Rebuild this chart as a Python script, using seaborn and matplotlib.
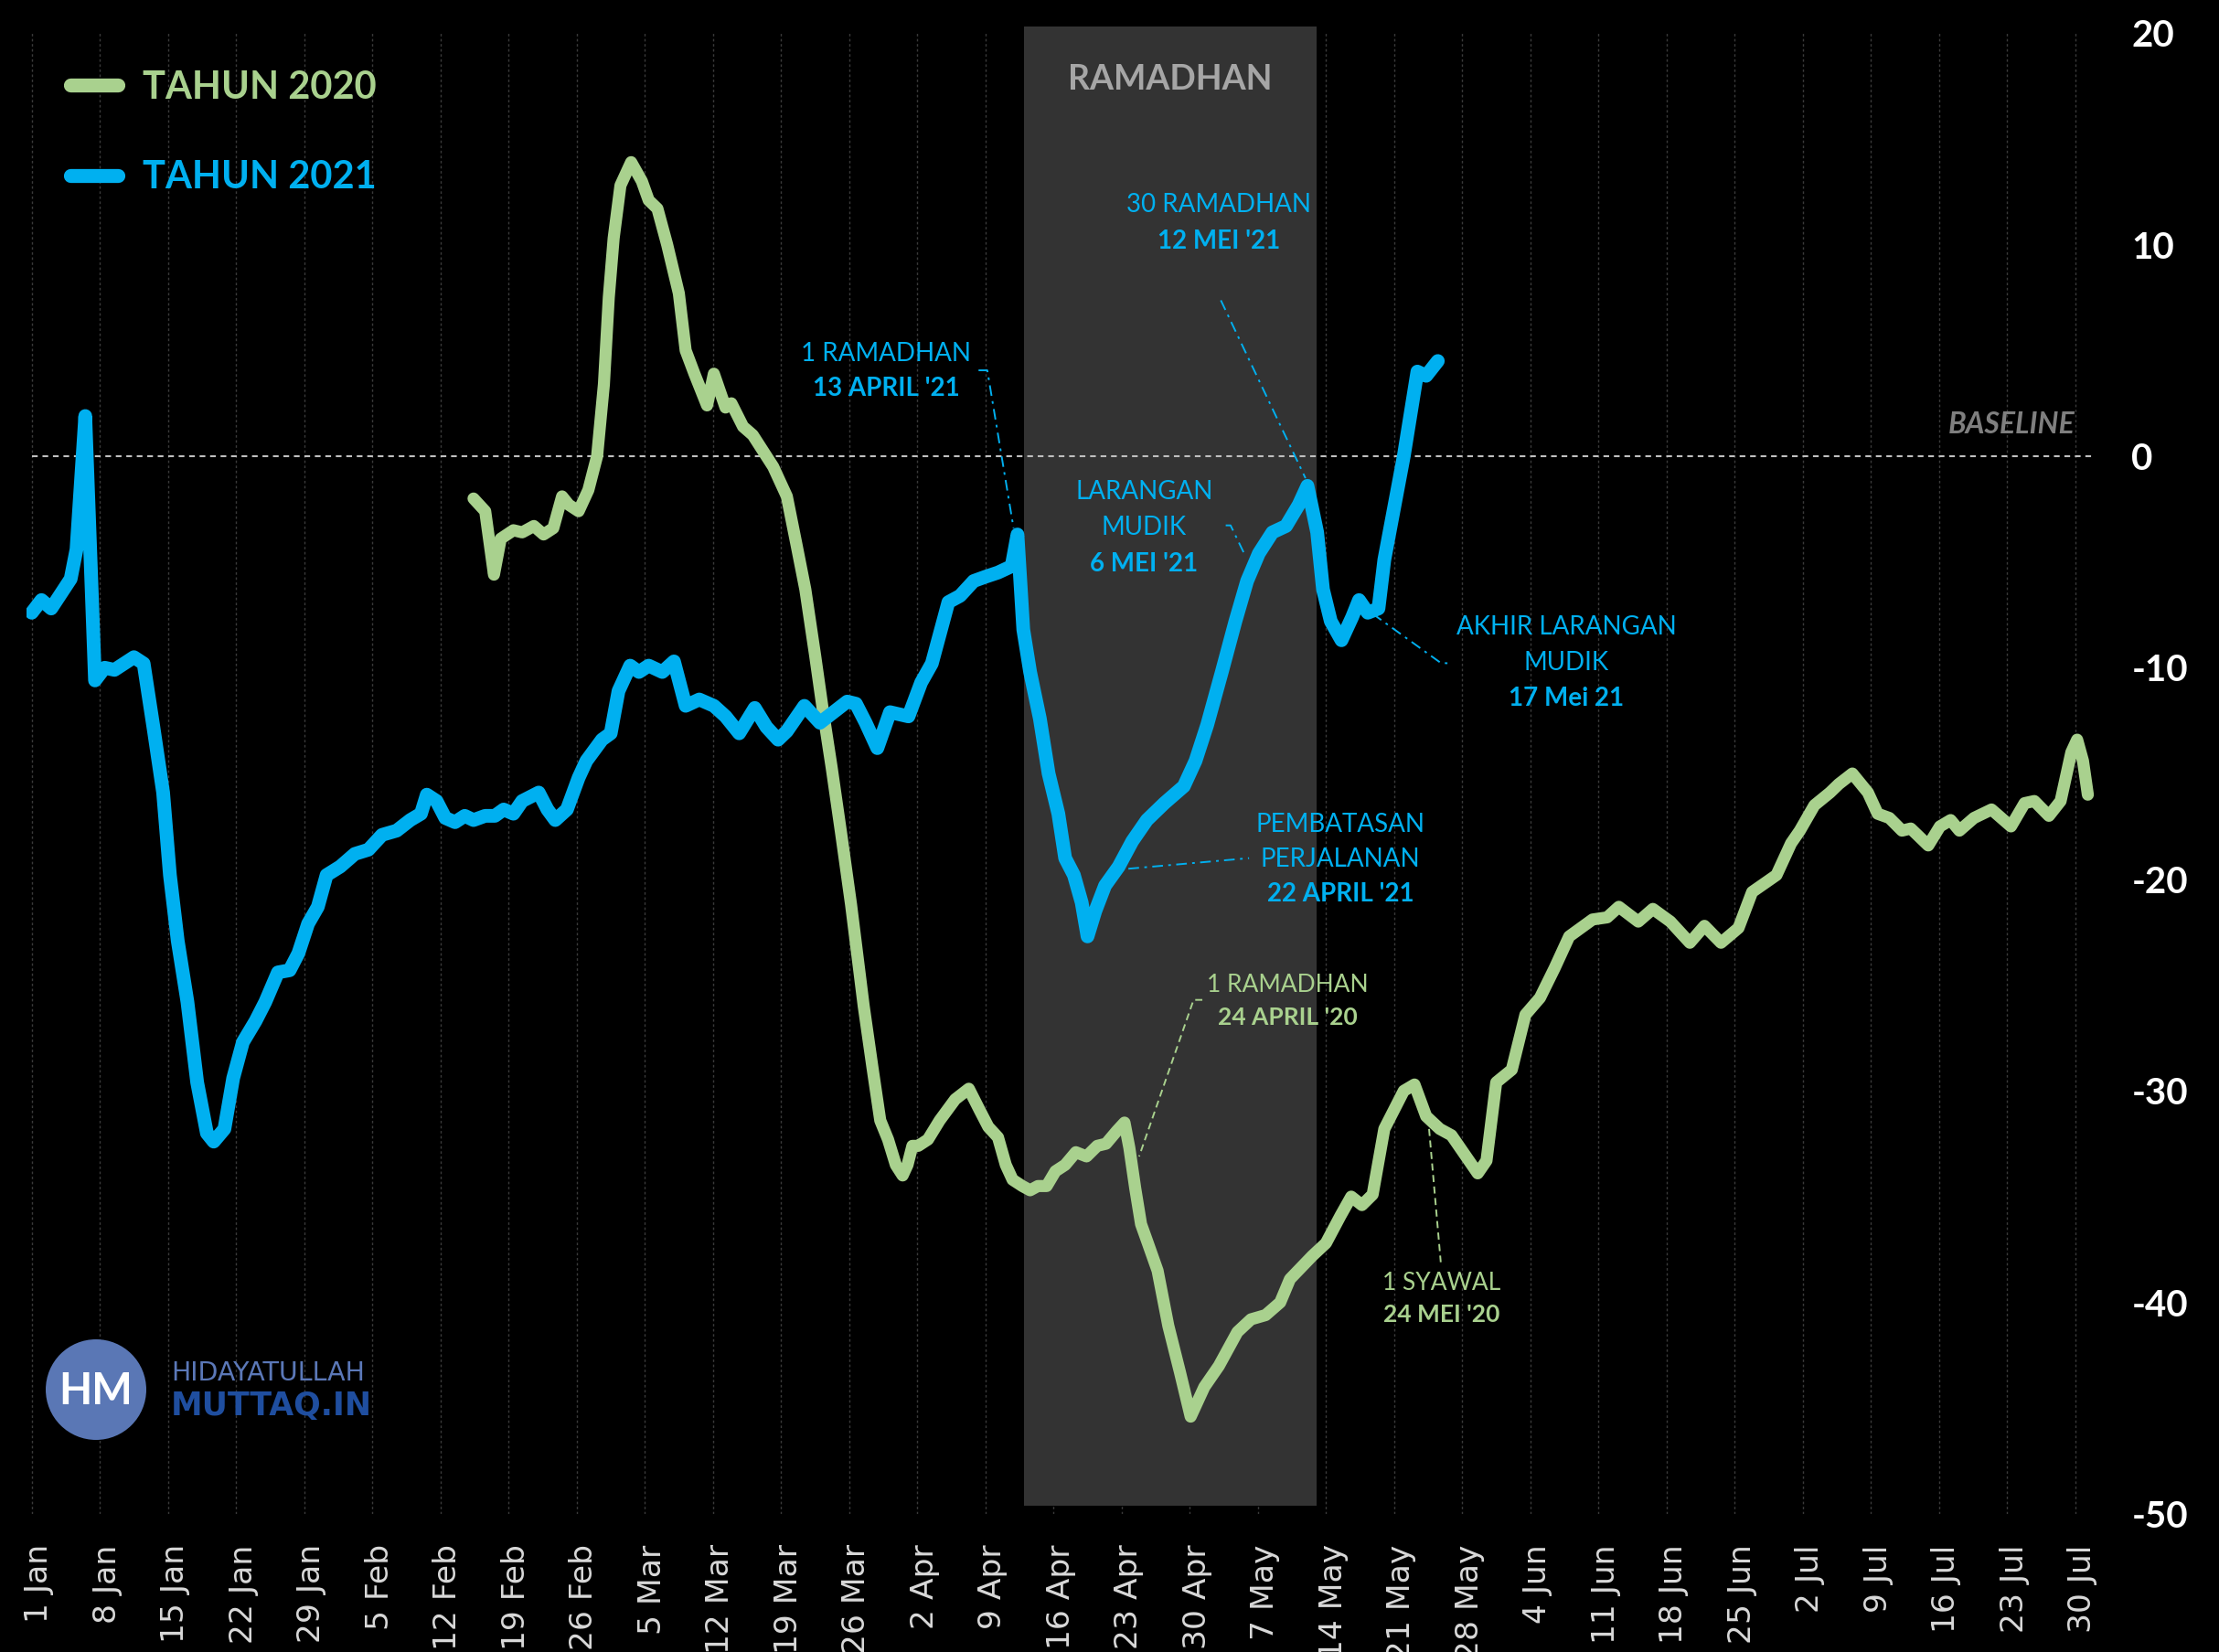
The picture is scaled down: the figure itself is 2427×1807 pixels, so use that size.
import matplotlib
matplotlib.use("Agg")
import matplotlib.pyplot as plt
import matplotlib.transforms as mtransforms
import pandas as pd
import seaborn as sns
from matplotlib.patches import Ellipse, Rectangle
from matplotlib.font_manager import FontProperties

# ---------------- data (x = days since 1 Jan, values = % vs baseline) -------------
days_2021 = [0, 1, 2, 3, 4, 4.6, 5.5, 6.0, 6.5, 7.5,
             8.5, 9.5, 10.5, 11.5, 12.5, 13.5, 14.2, 15, 16, 17,
             18, 18.7, 19.8, 20.7, 21.7, 23, 24, 25.3, 26.5, 27.4,
             28.4, 29.4, 30.3, 31.7, 33.2, 34.6, 36, 37.5, 38.9, 40,
             40.6, 41.6, 42.5, 43.5, 44.5, 45.4, 46.6, 47.6, 48.5, 49.5,
             50.4, 52.1, 53, 53.8, 55, 56.2, 57, 57.8, 58.6, 59.5,
             60.3, 61.5, 62.4, 63.4, 64.8, 66, 67.2, 68.6, 70.1, 71.3,
             72.7, 74.3, 75.5, 76.7, 77.6, 79.4, 81, 83.8, 84.7, 85.7,
             86.9, 88.2, 90.1, 91.4, 92.5, 94.2, 95.4, 96.8, 98, 99.3,
             100.7, 101.3, 101.9, 102.6, 103.6, 104.5, 105.5, 106.2, 107.1, 107.9,
             108.5, 109.3, 110.3, 111.7, 113.1, 114.6, 116.4, 118.4, 119.6, 120.8,
             122.3, 123.7, 124.9, 126.1, 127.5, 128.9, 130.2, 131.1, 132.1, 132.7,
             133.5, 134.6, 135.7, 136.4, 137.3, 138.4, 139, 141, 142.4, 143.3, 144.5]
values_2021 = [-7.4, -6.8, -7.2, -6.5, -5.8, -4.4, 1.9, -4.4, -10.6, -10.0,
               -10.1, -9.8, -9.5, -9.8, -12.8, -15.9, -19.8, -22.9, -25.8, -29.6,
               -32.0, -32.4, -31.8, -29.4, -27.7, -26.7, -25.8, -24.4, -24.3, -23.5,
               -22.1, -21.3, -19.8, -19.4, -18.8, -18.6, -17.9, -17.7, -17.2, -16.9,
               -16.0, -16.3, -17.1, -17.3, -17.0, -17.2, -17.0, -17.0, -16.7, -16.9,
               -16.3, -15.9, -16.7, -17.2, -16.7, -15.2, -14.4, -13.9, -13.4, -13.1,
               -11.1, -9.9, -10.2, -9.9, -10.2, -9.7, -11.8, -11.5, -11.8, -12.3,
               -13.1, -11.9, -12.8, -13.4, -13.0, -11.8, -12.6, -11.6, -11.7, -12.6,
               -13.8, -12.1, -12.3, -10.7, -9.8, -6.9, -6.6, -5.9, -5.7, -5.5,
               -5.2, -3.7, -8.2, -10.2, -12.4, -15.0, -16.9, -19.0, -19.8, -21.1,
               -22.7, -21.5, -20.3, -19.4, -18.2, -17.2, -16.4, -15.6, -14.4, -12.7,
               -10.2, -7.8, -5.9, -4.6, -3.6, -3.3, -2.3, -1.4, -3.6, -6.3,
               -7.8, -8.7, -7.6, -6.8, -7.4, -7.2, -4.9, 0.0, 4.0, 3.8, 4.5]

days_2020 = [45.4, 46.6, 47.5, 48.2, 49.5, 50.4, 51.6, 52.6, 53.6, 54.5,
             55.2, 56.2, 57.2, 58.1, 58.8, 59.3, 59.8, 60.5, 61.6, 62.7,
             63.4, 64.3, 65.3, 66.5, 67.2, 68.1, 69.4, 70.1, 71.3, 71.9,
             73.1, 74.1, 74.8, 76.2, 77.6, 78.6, 79.5, 80.5, 81.3, 82.2,
             83.2, 84.2, 85.5, 86.4, 87.2, 88.0, 88.8, 89.5, 90.0, 90.5,
             91.1, 92.1, 93.3, 94.9, 96.3, 97.4, 98.3, 99.3, 100.1, 100.8,
             101.8, 102.6, 103.4, 104.3, 105.2, 106.2, 107.3, 108.4, 109.5, 110.4,
             111.5, 112.3, 112.8, 113.4, 114.0, 114.7, 115.7, 116.8, 118.0, 119.1,
             120.5, 122.0, 123.9, 125.3, 126.8, 128.3, 129.3, 131.6, 133.0, 134.5,
             135.6, 136.7, 137.8, 139.0, 141.0, 142.1, 143.3, 144.7, 145.9, 147.1,
             148.6, 149.5, 150.5, 152.1, 153.5, 155.0, 156.5, 158.0, 160.4, 161.9,
             163.1, 165.1, 166.6, 168.4, 170.4, 171.9, 173.6, 175.4, 176.8, 179.3,
             180.8, 181.7, 183.2, 184.8, 185.7, 187.1, 188.7, 189.7, 190.9, 192.2,
             193.1, 194.9, 196.1, 197.2, 198.1, 199.6, 201.4, 203.4, 204.8, 205.8,
             207.3, 208.5, 209.6, 210.2, 210.8, 211.3]
values_2020 = [-2.0, -2.6, -5.6, -3.9, -3.5, -3.6, -3.3, -3.7, -3.4, -1.9,
               -2.3, -2.6, -1.6, 0.0, 3.4, 7.5, 10.3, 12.8, 13.9, 13.0,
               12.1, 11.7, 10.0, 7.7, 5.0, 3.9, 2.4, 3.9, 2.3, 2.5,
               1.4, 1.0, 0.5, -0.5, -1.9, -4.2, -6.3, -9.4, -12.0, -14.7,
               -17.9, -21.2, -26.0, -28.9, -31.4, -32.3, -33.5, -34.0, -33.5, -32.6,
               -32.6, -32.3, -31.4, -30.4, -29.9, -30.9, -31.7, -32.2, -33.5, -34.2,
               -34.5, -34.7, -34.5, -34.5, -33.8, -33.5, -32.9, -33.1, -32.6, -32.5,
               -31.9, -31.5, -32.7, -34.6, -36.3, -37.2, -38.5, -41.1, -43.3, -45.4,
               -44.0, -43.0, -41.4, -40.8, -40.6, -40.0, -38.9, -37.8, -37.2, -35.9,
               -35.0, -35.4, -34.9, -31.8, -30.0, -29.7, -31.2, -31.8, -32.1, -32.9,
               -33.9, -33.3, -29.6, -29.0, -26.4, -25.6, -24.2, -22.7, -21.9, -21.8,
               -21.3, -22.0, -21.4, -22.0, -23.0, -22.2, -23.0, -22.3, -20.6, -19.8,
               -18.3, -17.7, -16.5, -15.9, -15.5, -15.0, -15.9, -16.9, -17.1, -17.7,
               -17.6, -18.4, -17.5, -17.2, -17.7, -17.1, -16.7, -17.5, -16.4, -16.3,
               -17.0, -16.3, -14.0, -13.4, -14.4, -16.0]

tick_days = [0, 7, 14, 21, 28, 35, 42, 49, 56, 63, 70, 77, 84, 91, 98, 105,
             112, 119, 126, 133, 140, 147, 154, 161, 168, 175, 182, 189, 196, 203, 210]
tick_labels = ["1 Jan", "8 Jan", "15 Jan", "22 Jan", "29 Jan", "5 Feb", "12 Feb",
               "19 Feb", "26 Feb", "5 Mar", "12 Mar", "19 Mar", "26 Mar", "2 Apr",
               "9 Apr", "16 Apr", "23 Apr", "30 Apr", "7 May", "14 May", "21 May",
               "28 May", "4 Jun", "11 Jun", "18 Jun", "25 Jun", "2 Jul", "9 Jul",
               "16 Jul", "23 Jul", "30 Jul"]
y_ticks = [20, 10, 0, -10, -20, -30, -40, -50]
y_tick_labels = ["20", "10", "0", "-10", "-20", "-30", "-40", "-50"]
ramadhan_span = (102, 132)   # 13 Apr - 13 May 2021

GREEN = "#A9D18E"
BLUE = "#00B0F0"

# ---------------- figure ----------------
sns.set_theme(style="white")
plt.rcParams["font.family"] = ["Lato", "DejaVu Sans"]

W, H = 2427, 1807
fig = plt.figure(figsize=(W / 100, H / 100), dpi=100, facecolor="black")
ax_left, ax_right, ax_top, ax_bottom = 29.4, 2291.0, 36.2, 1656.0
ax = fig.add_axes([ax_left / W, 1 - ax_bottom / H,
                   (ax_right - ax_left) / W, (ax_bottom - ax_top) / H])
ax.set_facecolor("black")
ax.set_xlim(-0.5, 212)
ax.set_ylim(-50, 20)
for s in ax.spines.values():
    s.set_visible(False)

# weekly vertical grid
ax.set_axisbelow(True)
ax.set_xticks(tick_days, tick_labels)
ax.grid(axis="x", color="#3a3a3a", linestyle=(0, (2, 2)), linewidth=1.0)
ax.grid(axis="y", visible=False)

# Ramadhan shading
ax.add_patch(Rectangle((ramadhan_span[0], -49.6), ramadhan_span[1] - ramadhan_span[0], 69.9,
                       facecolor="#333333", edgecolor="none", zorder=1, clip_on=False))
ax.text(sum(ramadhan_span) / 2, 17.8, "RAMADHAN", color="#a6a6a6", fontsize=27,
        fontweight="bold", ha="center", va="center", zorder=3)

# baseline
ax.hlines(0, 0, 211.7, colors="#bfbfbf", linestyles=(0, (3, 2.5)), linewidth=1.5, zorder=2)
ax.text(210.0, 1.5, "BASELINE", color="#7f7f7f", fontsize=23, fontweight="bold",
        fontstyle="italic", ha="right", va="center", zorder=3)

# lines
df20 = pd.DataFrame({"day": days_2020, "value": values_2020})
df21 = pd.DataFrame({"day": days_2021, "value": values_2021})
sns.lineplot(data=df20, x="day", y="value", ax=ax, color=GREEN, linewidth=9.5,
             label="TAHUN 2020", sort=False, estimator=None, zorder=4,
             solid_capstyle="round", solid_joinstyle="round")
sns.lineplot(data=df21, x="day", y="value", ax=ax, color=BLUE, linewidth=10.8,
             label="TAHUN 2021", sort=False, estimator=None, zorder=5,
             solid_capstyle="round", solid_joinstyle="round")

ax.set_xlabel("")
ax.set_ylabel("")

# ticks
ax.tick_params(axis="x", length=0, pad=24, labelsize=24.8, labelcolor="#d9d9d9",
               labelrotation=90)
shift = mtransforms.ScaledTranslation(0.08, 0, fig.dpi_scale_trans)
for lbl in ax.get_xticklabels():
    lbl.set_fontfamily("DejaVu Sans")
    lbl.set_transform(lbl.get_transform() + shift)
ax.yaxis.tick_right()
ax.set_yticks(y_ticks, y_tick_labels)
ax.tick_params(axis="y", length=0, pad=29, labelsize=29, labelcolor="white")
for lbl in ax.get_yticklabels():
    lbl.set_fontweight("bold")

# legend
handles, labels = ax.get_legend_handles_labels()
leg = ax.legend(handles, labels, loc="upper left", bbox_to_anchor=(77 / W, 1 - 77 / H),
                bbox_transform=fig.transFigure, frameon=False,
                prop=FontProperties(family="Lato", weight="bold", size=30),
                handlelength=1.24, handletextpad=0.65, labelspacing=1.45,
                borderpad=0, borderaxespad=0, labelcolor="linecolor")
for h in leg.legend_handles:
    h.set_linewidth(11)
    h.set_solid_capstyle("round")

# annotations
def note(x, lines, color, size=20):
    for y, txt, wt in lines:
        ax.text(x, y, txt, color=color, fontsize=size, fontweight=wt,
                ha="center", va="center", zorder=6)

dashdot = (0, (6, 3, 1.5, 3))
note(87.8, [(4.84, "1 RAMADHAN", "normal"), (3.2, "13 APRIL '21", "bold")], BLUE)
ax.plot([97.3, 98.2, 100.9], [4.06, 4.06, -3.4], color=BLUE, lw=1.4, ls=dashdot, zorder=6)

note(122.0, [(11.88, "30 RAMADHAN", "normal"), (10.14, "12 MEI '21", "bold")], BLUE)
ax.plot([122.2, 130.9], [7.37, -1.04], color=BLUE, lw=1.4, ls=dashdot, zorder=6)

note(114.3, [(-1.7, "LARANGAN", "normal"), (-3.35, "MUDIK", "normal"),
             (-5.1, "6 MEI '21", "bold")], BLUE)
ax.plot([122.7, 123.2, 124.6], [-3.27, -3.27, -4.6], color=BLUE, lw=1.4, ls=dashdot, zorder=6)

note(157.7, [(-8.09, "AKHIR LARANGAN", "normal"), (-9.77, "MUDIK", "normal"),
             (-11.44, "17 Mei 21", "bold")], BLUE)
ax.plot([137.8, 144.8, 146.0], [-7.45, -9.77, -9.8], color=BLUE, lw=1.4, ls=dashdot, zorder=6)

note(134.5, [(-17.4, "PEMBATASAN", "normal"), (-19.07, "PERJALANAN", "normal"),
             (-20.7, "22 APRIL '21", "bold")], BLUE)
ax.plot([112.7, 125.1], [-19.5, -19.0], color=BLUE, lw=1.4, ls=dashdot, zorder=6)

note(129.1, [(-25.0, "1 RAMADHAN", "normal"), (-26.55, "24 APRIL '20", "bold")], GREEN, 19)
ax.plot([120.3, 119.4, 113.8], [-25.7, -25.7, -33.1], color=GREEN, lw=1.4,
        ls=(0, (4, 2.5)), zorder=6)

note(144.9, [(-39.07, "1 SYAWAL", "normal"), (-40.6, "24 MEI '20", "bold")], GREEN, 19)
ax.plot([143.6, 144.8], [-31.8, -38.1], color=GREEN, lw=1.4, ls=(0, (4, 2.5)), zorder=6)

# logo
cx, cy = 105, 1520
fig.add_artist(Ellipse((cx / W, 1 - cy / H), width=110 / W, height=110 / H,
                       transform=fig.transFigure, facecolor="#5a77b5", edgecolor="none",
                       zorder=10))
fig.text(cx / W, 1 - (cy + 2) / H, "HM", color="white", fontsize=34, fontweight="bold",
         ha="center", va="center", zorder=11)
fig.text(187 / W, 1 - 1502 / H, "HIDAYATULLAH", color="#5b78b8", fontsize=20.5,
         family="DejaVu Sans", ha="left", va="center", zorder=11)
fig.text(187 / W, 1 - 1538 / H, "MUTTAQ.IN", color="#1f4e9f", fontsize=25,
         family="DejaVu Sans", fontweight="bold", ha="left", va="center", zorder=11)

fig.savefig("out.png", dpi=100, facecolor="black")
